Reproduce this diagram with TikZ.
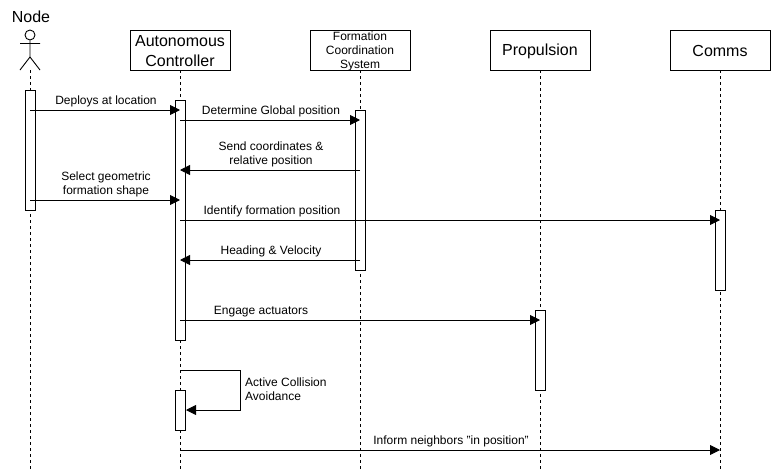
\documentclass[tikz,border=0pt]{standalone}
\usepackage{fontspec}
\setmainfont{Liberation Sans}
\usetikzlibrary{arrows.meta}
\tikzset{
  headbox/.style={draw=black,fill=white,line width=0.9pt,minimum width=100pt,minimum height=40pt,inner sep=0pt,align=center,font=\fontsize{16}{20}\selectfont,text depth=0pt},
  smallhead/.style={headbox,font=\fontsize{12}{14}\selectfont},
  activation/.style={draw=black,fill=white,line width=0.9pt,minimum width=10pt,inner sep=0pt,anchor=north},
  lifeline/.style={draw=black,line width=0.9pt,dash pattern=on 3pt off 3pt},
  message/.style={draw=black,line width=0.9pt,-{Triangle[length=10pt,width=10pt]}},
  msglabel/.style={inner sep=0pt,align=center,font=\fontsize{12}{14}\selectfont}
}
\begin{document}
\begin{tikzpicture}[x=1pt,y=-1pt]
\useasboundingbox (0,0) rectangle (771,471);
% heads
\node[inner sep=0pt,font=\fontsize{16}{20}\selectfont] (nodelbl) at (31,17) {Node};
\node[draw=black,circle,line width=0.9pt,minimum size=10pt,inner sep=0pt] (head) at (30,35) {};
\coordinate (hip) at (30,57);
\coordinate (armL) at (20,43.5);
\coordinate (armR) at (40,43.5);
\coordinate (legL) at (20,70);
\coordinate (legR) at (40,70);
\draw[line width=0.9pt] (head.south) -- (hip) (armL) -- (armR) (legL) -- (hip) -- (legR);
\node[draw=black,fill=white,line width=0.9pt,minimum width=100pt,minimum height=40pt,inner sep=0pt] (ctrl) at (180,50) {};
\node[inner sep=0pt,align=center,font=\fontsize{16}{20}\selectfont] (ctrlt) at (180,51.3) {Autonomous\\Controller};
\node[draw=black,fill=white,line width=0.9pt,minimum width=100pt,minimum height=40pt,inner sep=0pt] (fcs) at (360,50) {};
\node[inner sep=0pt,align=center,font=\fontsize{12}{14}\selectfont] (fcst) at (360,51.2) {Formation\\Coordination\\System};
\node[draw=black,fill=white,line width=0.9pt,minimum width=100pt,minimum height=40pt,inner sep=0pt] (prop) at (540,50) {};
\node[inner sep=0pt,font=\fontsize{16}{20}\selectfont] (propt) at (540,51.3) {Propulsion};
\node[draw=black,fill=white,line width=0.9pt,minimum width=100pt,minimum height=40pt,inner sep=0pt] (comms) at (720,50) {};
\node[inner sep=0pt,font=\fontsize{16}{20}\selectfont] (commst) at (720,51.3) {Comms};
% lifeline ends
\coordinate (e0) at (30,470);
\coordinate (e1) at (180,470);
\coordinate (e2) at (360,470);
\coordinate (e3) at (540,470);
\coordinate (e4) at (720,470);
\coordinate (s0) at (30,70);
\draw[lifeline] (s0) -- (e0);
\draw[lifeline] (ctrl.south) -- (e1);
\draw[lifeline] (fcs.south) -- (e2);
\draw[lifeline] (prop.south) -- (e3);
\draw[lifeline] (comms.south) -- (e4);
% activations
\node[activation,minimum height=120pt] (a0) at (30,90) {};
\node[activation,minimum height=240pt] (a1) at (180,100) {};
\node[activation,minimum height=160pt] (a2) at (360,110) {};
\node[activation,minimum height=80pt] (a4) at (720,210) {};
\node[activation,minimum height=80pt] (a3) at (540,310) {};
\node[activation,minimum height=40pt] (a5) at (180,390) {};
% message end points
\coordinate (m1s) at (30,110); \coordinate (m1e) at (180,110);
\coordinate (m2s) at (180,120); \coordinate (m2e) at (360,120);
\coordinate (m3s) at (360,170); \coordinate (m3e) at (180,170);
\coordinate (m4s) at (30,200); \coordinate (m4e) at (180,200);
\coordinate (m5s) at (180,220); \coordinate (m5e) at (720,220);
\coordinate (m6s) at (360,260); \coordinate (m6e) at (180,260);
\coordinate (m7s) at (180,320); \coordinate (m7e) at (540,320);
\coordinate (m8s) at (180,370); \coordinate (m8a) at (240,370); \coordinate (m8b) at (240,410); \coordinate (m8e) at (186,410);
\coordinate (m9s) at (180,450); \coordinate (m9e) at (720,450);
\draw[message] (m1s) -- (m1e);
\draw[message] (m2s) -- (m2e);
\draw[message] (m3s) -- (m3e);
\draw[message] (m4s) -- (m4e);
\draw[message] (m5s) -- (m5e);
\draw[message] (m6s) -- (m6e);
\draw[message] (m7s) -- (m7e);
\draw[message] (m8s) -- (m8a) -- (m8b) -- (m8e);
\draw[message] (m9s) -- (m9e);
% labels
\node[msglabel] (l1) at (106,101.7) {Deploys at location};
\node[msglabel] (l2) at (271,111.7) {Determine Global position};
\node[msglabel] (l3) at (271,154.7) {Send coordinates \&\\relative position};
\node[msglabel] (l4) at (106,184.7) {Select geometric\\formation shape};
\node[msglabel] (l5) at (272,211.7) {Identify formation position};
\node[msglabel] (l6) at (271,251.7) {Heading \& Velocity};
\node[msglabel] (l7) at (261,311.7) {Engage actuators};
\node[msglabel,align=left,anchor=west] (l8) at (245,389.5) {Active Collision\\Avoidance};
\node[msglabel] (l9) at (451,441.7) {Inform neighbors "in position"};
\end{tikzpicture}
\end{document}
